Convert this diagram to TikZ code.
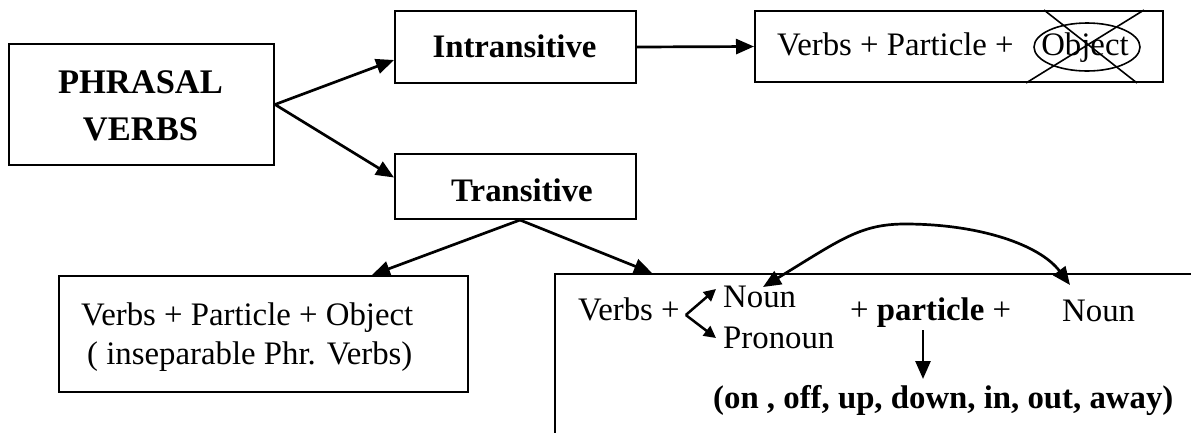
\documentclass[tikz,border=0pt]{standalone}
\usepackage{fontspec}
\setmainfont{Liberation Serif}
\usetikzlibrary{arrows.meta,calc,shapes.geometric}
\begin{document}
\begin{tikzpicture}[x=1pt,y=-1pt,font=\fontsize{32.8}{39}\selectfont,
  box/.style={draw,line width=2pt,inner sep=0pt,rectangle},
  txt/.style={inner sep=0pt,anchor=base west},
  btxt/.style={inner sep=0pt,anchor=base,font=\fontsize{32.8}{39}\selectfont\bfseries},
  conn/.style={line width=2.7pt,-{Triangle[length=18pt,width=15pt]}},
  small/.style={line width=2.5pt,-{Triangle[length=12pt,width=12pt]}}]
\useasboundingbox (0,0) rectangle (1191,432);
\clip (0,0) rectangle (1191,432);
% boxes
\node[box,minimum width=265pt,minimum height=121pt] (pv) at (141.5,104.5) {};
\node[box,minimum width=241pt,minimum height=72pt] (intr) at (515.5,47) {};
\node[box,minimum width=241pt,minimum height=65pt] (trans) at (515.5,186.5) {};
\node[box,minimum width=408pt,minimum height=71pt] (tr) at (959,46.5) {};
\node[box,minimum width=409pt,minimum height=116pt] (lb) at (263.5,334) {};
\node[box,minimum width=690pt,minimum height=252pt] (rb) at (900,400) {};
% texts
\node[btxt,font=\fontsize{34.5}{40}\selectfont\bfseries] (pv1) at (140.5,93) {PHRASAL};
\node[btxt,font=\fontsize{34.5}{40}\selectfont\bfseries] (pv2) at (140.5,140) {VERBS};
\node[btxt] (intrt) at (514.5,57) {Intransitive};
\node[btxt] (transt) at (522,201) {Transitive};
\node[txt] (trt) at (777,55) {Verbs + Particle +};
\node[inner sep=0pt,anchor=base] (obj) at (1085,55) {Object};
\node[draw,ellipse,line width=1.6pt,minimum width=106pt,minimum height=48pt,inner sep=0pt] (ell) at (1087,47) {};
\draw[line width=1.6pt] ($(tr.north west)+(290,0)$) -- ($(tr.south west)+(383,0)$);
\draw[line width=1.6pt] ($(tr.north west)+(390,0)$) -- ($(tr.south west)+(272,0)$);
\node[txt] (lb1) at (81,325) {Verbs + Particle + Object};
\node[txt] (lb2) at (87,364) {( inseparable Phr. Verbs)};
\node[txt] (rbv) at (578,320) {Verbs +};
\node[txt] (noun1) at (723,307) {Noun};
\node[txt] (pron) at (723,348) {Pronoun};
\node[txt] (part) at (850,320) {+ \textbf{particle} +};
\node[txt] (noun2) at (1062,321) {Noun};
\node[txt,font=\fontsize{32.8}{39}\selectfont\bfseries] (ons) at (713,408) {(on , off, up, down, in, out, away)};
% connectors
\draw[conn] (pv.east) -- ($(intr.west)+(0,13)$);
\draw[conn] (pv.east) -- ($(trans.west)+(0,-9)$);
\draw[conn] (intr.east) -- (tr.west);
\draw[conn] ($(trans.south)+(4.5,0)$) -- ($(lb.north west)+(314,0)$);
\draw[conn] ($(trans.south)+(4.5,0)$) -- ($(rb.north west)+(98,0)$);
\coordinate (bv) at ($(rbv.base east)+(6,-5)$);
\draw[small] (bv) -- ($(noun1.base west)+(-7,-18)$);
\draw[small] (bv) -- ($(pron.base west)+(-7,-10)$);
\draw[line width=2.7pt,{Triangle[length=18pt,width=15pt]}-{Triangle[length=18pt,width=15pt]}]
  ($(noun1.base west)+(40,-20)$) .. controls (840,240) and (860,224) .. (905,224)
  .. controls (980,224) and (1040,245) .. ($(noun2.base west)+(8,-36)$);
\draw[conn] ($(part.base west)+(73,10)$) -- ($(ons.base west)+(210,-29)$);
\end{tikzpicture}
\end{document}
